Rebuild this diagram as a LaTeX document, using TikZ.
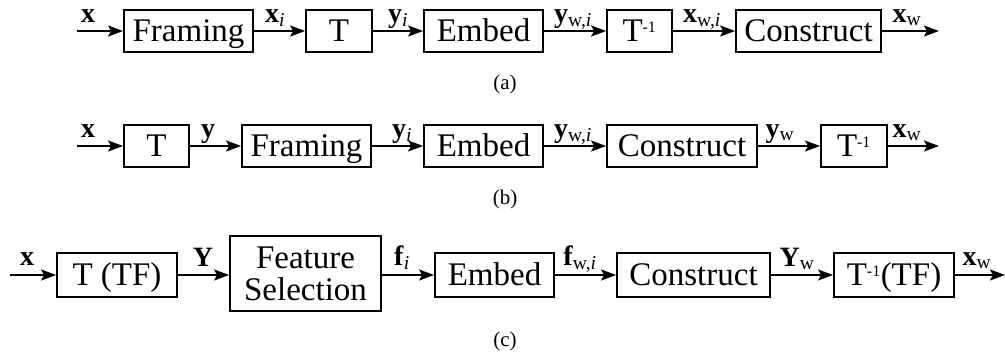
\documentclass[tikz,border=0pt]{standalone}
\usepackage{fontspec}
\setmainfont{Liberation Serif}
\usetikzlibrary{arrows.meta}
\newcommand\tinv{T\textsuperscript{\fontsize{16}{16}\selectfont -1}}
\begin{document}
\begin{tikzpicture}[x=1pt,y=-1pt,
  blkbase/.style={draw, line width=1.8pt, inner sep=0pt, minimum height=42pt, font=\fontsize{33}{32}\selectfont, align=center},
  blk/.style={blkbase, text height=25pt, text depth=3.2pt},
  lbl/.style={anchor=base, inner sep=0pt, font=\fontsize{28}{28}\selectfont},
  capt/.style={font=\fontsize{21}{21}\selectfont, inner sep=0pt},
  arr/.style={line width=1.8pt, -{Stealth[length=15pt,width=11pt,inset=3pt]}}]
\useasboundingbox (0,0) rectangle (1005,360);
% ---------- row (a) ----------
\coordinate (ain) at (77,31);
\coordinate (aout) at (939,31);
\node[blk, minimum width=129pt] (a1) at (188.5,31) {Framing};
\node[blk, minimum width=66pt] (a2) at (339,31) {T};
\node[blk, minimum width=119pt] (a3) at (483.5,31) {Embed};
\node[blk, minimum width=65pt] (a4) at (639.5,31) {\tinv};
\node[blk, minimum width=145pt] (a5) at (808.5,31) {Construct};
\draw[arr] (ain) -- (a1);
\draw[arr] (a1) -- (a2);
\draw[arr] (a2) -- (a3);
\draw[arr] (a3) -- (a4);
\draw[arr] (a4) -- (a5);
\draw[arr] (a5) -- (aout);
\node[lbl] (la0) at (88,22) {\textbf{x}};
\node[lbl] (la1) at (275,22) {\textbf{x}\textsubscript{\textit{i}}};
\node[lbl] (la2) at (398,22) {\textbf{y}\textsubscript{\textit{i}}};
\node[lbl] (la3) at (573,22) {\textbf{y}\textsubscript{w,\textit{i}}};
\node[lbl] (la4) at (702,22) {\textbf{x}\textsubscript{w,\textit{i}}};
\node[lbl] (la5) at (907,22) {\textbf{x}\textsubscript{w}};
\node[capt] (capa) at (505,84) {(a)};
% ---------- row (b) ----------
\coordinate (bin) at (77,146);
\coordinate (bout) at (939,146);
\node[blk, minimum width=65pt] (b1) at (156.5,146) {T};
\node[blk, minimum width=129pt] (b2) at (306.5,146) {Framing};
\node[blk, minimum width=119pt] (b3) at (483.5,146) {Embed};
\node[blk, minimum width=150pt] (b4) at (682,146) {Construct};
\node[blk, minimum width=66pt] (b5) at (854,146) {\tinv};
\draw[arr] (bin) -- (b1);
\draw[arr] (b1) -- (b2);
\draw[arr] (b2) -- (b3);
\draw[arr] (b3) -- (b4);
\draw[arr] (b4) -- (b5);
\draw[arr] (b5) -- (bout);
\node[lbl] (lb0) at (88,137) {\textbf{x}};
\node[lbl] (lb1) at (208,137) {\textbf{y}};
\node[lbl] (lb2) at (402,137) {\textbf{y}\textsubscript{\textit{i}}};
\node[lbl] (lb3) at (573,137) {\textbf{y}\textsubscript{w,\textit{i}}};
\node[lbl] (lb4) at (780,137) {\textbf{y}\textsubscript{w}};
\node[lbl] (lb5) at (907,137) {\textbf{x}\textsubscript{w}};
\node[capt] (capb) at (505,199) {(b)};
% ---------- row (c) ----------
\coordinate (cin) at (10,275);
\coordinate (cout) at (1005,275);
\node[blk, minimum width=120pt, minimum height=44pt] (c1) at (117,275) {T (TF)};
\node[blkbase, minimum width=151pt, minimum height=75pt] (c2) at (305.5,273.5) {Feature\\Selection};
\node[blk, minimum width=119pt, minimum height=44pt] (c3) at (494.5,275) {Embed};
\node[blk, minimum width=153pt, minimum height=44pt] (c4) at (693.5,275) {Construct};
\node[blk, minimum width=120pt, minimum height=44pt] (c5) at (894,275) {\tinv(TF)};
\draw[arr] (cin) -- (c1);
\draw[arr] (c1) -- (c2.west |- c1.east);
\draw[arr] (c2.east |- c3.west) -- (c3);
\draw[arr] (c3) -- (c4);
\draw[arr] (c4) -- (c5);
\draw[arr] (c5) -- (cout);
\node[lbl] (lc0) at (27,265) {\textbf{x}};
\node[lbl] (lc1) at (203,266) {\textbf{Y}};
\node[lbl] (lc2) at (402,265) {\textbf{f}\textsubscript{\textit{i}}};
\node[lbl] (lc3) at (580,265) {\textbf{f}\textsubscript{w,\textit{i}}};
\node[lbl] (lc4) at (797,266) {\textbf{Y}\textsubscript{w}};
\node[lbl] (lc5) at (977,265) {\textbf{x}\textsubscript{w}};
\node[capt] (capc) at (505,341) {(c)};
\end{tikzpicture}
\end{document}
